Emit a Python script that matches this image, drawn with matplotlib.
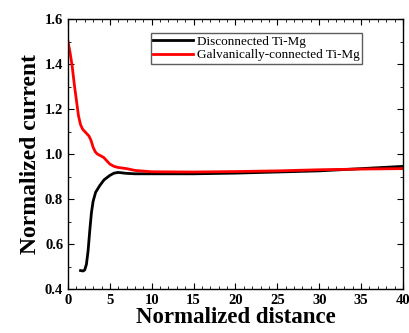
import matplotlib
matplotlib.use('Agg')
import matplotlib.pyplot as plt
from matplotlib.ticker import MultipleLocator

plt.rcParams['font.family'] = ['Liberation Serif', 'DejaVu Serif']

# Disconnected Ti-Mg
x_disc = [1.5, 1.8, 2.0, 2.2, 2.4, 2.6, 2.8, 3.0, 3.3, 3.8, 4.3, 5.0, 5.5, 6.0, 7.0, 8.0, 10, 15, 20,
          25, 30, 35, 40]
y_disc = [0.482, 0.48, 0.485, 0.51, 0.57, 0.66, 0.74, 0.79, 0.83, 0.86, 0.885, 0.905, 0.915, 0.918,
          0.914, 0.912, 0.912, 0.912, 0.915, 0.92, 0.925, 0.935, 0.945]

# Galvanically-connected Ti-Mg
x_galv = [0, 0.25, 0.5, 0.75, 1.0, 1.25, 1.5, 1.75, 2.0, 2.25, 2.5, 2.75, 3.0, 3.25, 3.5, 4.0, 4.25,
          4.5, 5.0, 5.5, 6.0, 7.0, 8.0, 10, 15, 20, 25, 30, 35, 40]
y_galv = [1.50, 1.45, 1.39, 1.31, 1.24, 1.17, 1.13, 1.11, 1.10, 1.09, 1.08, 1.06, 1.03, 1.01, 1.00,
          0.99, 0.985, 0.975, 0.955, 0.945, 0.94, 0.935, 0.927, 0.921, 0.92, 0.922, 0.925, 0.93,
          0.933, 0.935]

fig = plt.figure(figsize=(4.1, 3.33), dpi=100)
ax = fig.add_axes([68 / 410, 1 - 289 / 333, 335 / 410, 270 / 333])

ax.plot(x_disc, y_disc, color='black', lw=2, label='Disconnected Ti-Mg')
ax.plot(x_galv, y_galv, color='red', lw=2, label='Galvanically-connected Ti-Mg')

ax.set_xlim(0, 40)
ax.set_ylim(0.4, 1.6)
ax.xaxis.set_minor_locator(MultipleLocator(1))
ax.yaxis.set_minor_locator(MultipleLocator(0.1))
ax.tick_params(which='both', direction='in', top=True, right=True, labelsize=10.5)
ax.tick_params(which='major', length=4)
ax.tick_params(which='minor', length=2)
ax.set_xticks([0, 5, 10, 15, 20, 25, 30, 35, 40])
ax.set_xticklabels(['0', '5', '10', '15', '20', '25', '30', '35', '40'], fontweight='bold')
ax.set_yticks([0.4, 0.6, 0.8, 1.0, 1.2, 1.4, 1.6])
ax.set_yticklabels(['0.4', '0.6', '0.8', '1.0', '1.2', '1.4', '1.6'], fontweight='bold')

ax.set_xlabel('Normalized distance', fontsize=16.5, fontweight='bold', labelpad=0)
ax.set_ylabel('Normalized current', fontsize=17, fontweight='bold', labelpad=3)

leg = ax.legend(loc='upper right', bbox_to_anchor=(0.878, 0.948), fontsize=9.5, frameon=True,
                fancybox=False, edgecolor='#333333', handlelength=3, borderpad=0.2,
                labelspacing=0.1, handletextpad=0.3, borderaxespad=0)
leg.get_frame().set_linewidth(1)

for s in ax.spines.values():
    s.set_linewidth(1)

plt.savefig('out.png', dpi=100)
